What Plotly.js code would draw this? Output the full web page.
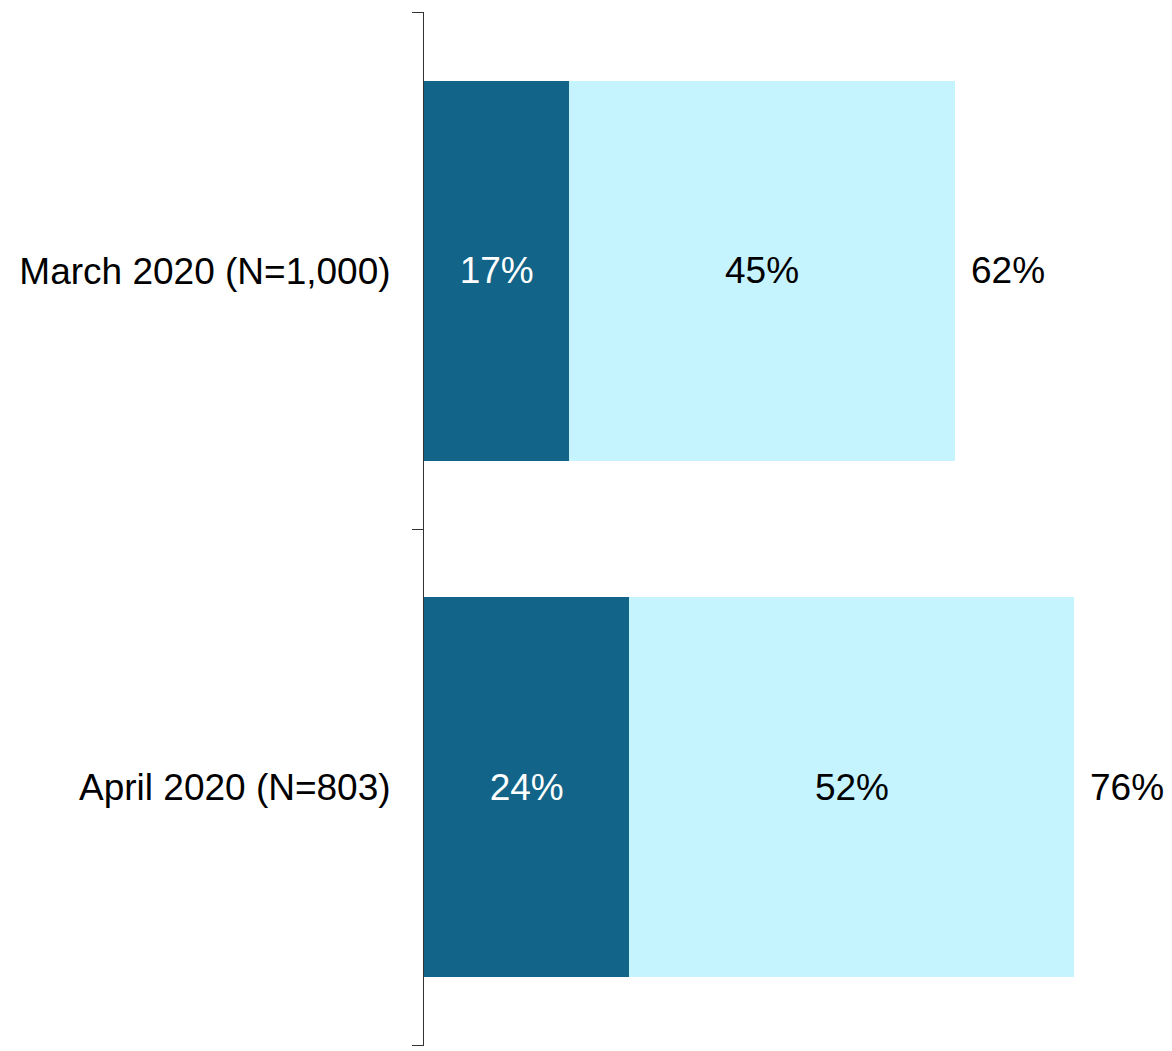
<!DOCTYPE html>
<html>
<head>
<meta charset="utf-8">
<script src="https://cdn.plot.ly/plotly-3.0.1.min.js"></script>
<style>
  body { margin: 0; background: #fff; }
  #chart { width: 1172px; height: 1051px; }
</style>
</head>
<body>
<div id="chart"></div>
<script>
// Colours
const darkBlue = "#126488";
const lightBlue = "#C5F3FE";
const axisColor = "#333333";
const fontName = "Liberation Sans, Arial, sans-serif";

// Data
const categories = ["March 2020 (N=1,000)", "April 2020 (N=803)"];
const strong_values = [17, 24];
const some_values = [45, 52];
const total_values = [62, 76];

var strong = {
    type: 'bar',
    orientation: 'h',
    y: categories,
    x: strong_values,
    text: strong_values.map(v => v + '%'),
    textposition: 'inside',
    insidetextanchor: 'middle',
    textfont: { color: '#ffffff', size: 37, family: fontName },
    marker: { color: darkBlue },
    hoverinfo: 'none'
};

var some = {
    type: 'bar',
    orientation: 'h',
    y: categories,
    x: some_values,
    text: some_values.map(v => v + '%'),
    textposition: 'inside',
    insidetextanchor: 'middle',
    textfont: { color: '#000000', size: 37, family: fontName },
    marker: { color: lightBlue },
    hoverinfo: 'none'
};

// totals written just past the end of each bar
var totals = categories.map((c, i) => ({
    x: total_values[i],
    y: c,
    xref: 'x',
    yref: 'y',
    text: total_values[i] + '%',
    showarrow: false,
    xanchor: 'left',
    xshift: 14,
    font: { size: 37, color: '#000000', family: fontName }
}));

var layout = {
    barmode: 'stack',
    bargap: 0.265,
    showlegend: false,
    paper_bgcolor: '#ffffff',
    plot_bgcolor: '#ffffff',
    font: { family: fontName, size: 37, color: '#000000' },
    margin: { l: 424, r: 0, t: 12, b: 5, pad: 0 },
    xaxis: {
        visible: false,
        range: [0, 87.4],
        fixedrange: true
    },
    yaxis: {
        categoryorder: 'array',
        categoryarray: categories.slice().reverse(),
        autorange: false,
        range: [-0.5005, 1.5005],
        showline: true,
        linecolor: axisColor,
        linewidth: 1,
        ticks: 'outside',
        tickson: 'boundaries',
        ticklen: 11,
        tickcolor: axisColor,
        tickwidth: 1,
        showgrid: false,
        zeroline: false,
        ticklabelstandoff: 25,
        tickfont: { size: 37, color: '#000000', family: fontName }
    },
    annotations: totals
};

Plotly.newPlot('chart', [strong, some], layout, { displayModeBar: false, staticPlot: true });
</script>
</body>
</html>
